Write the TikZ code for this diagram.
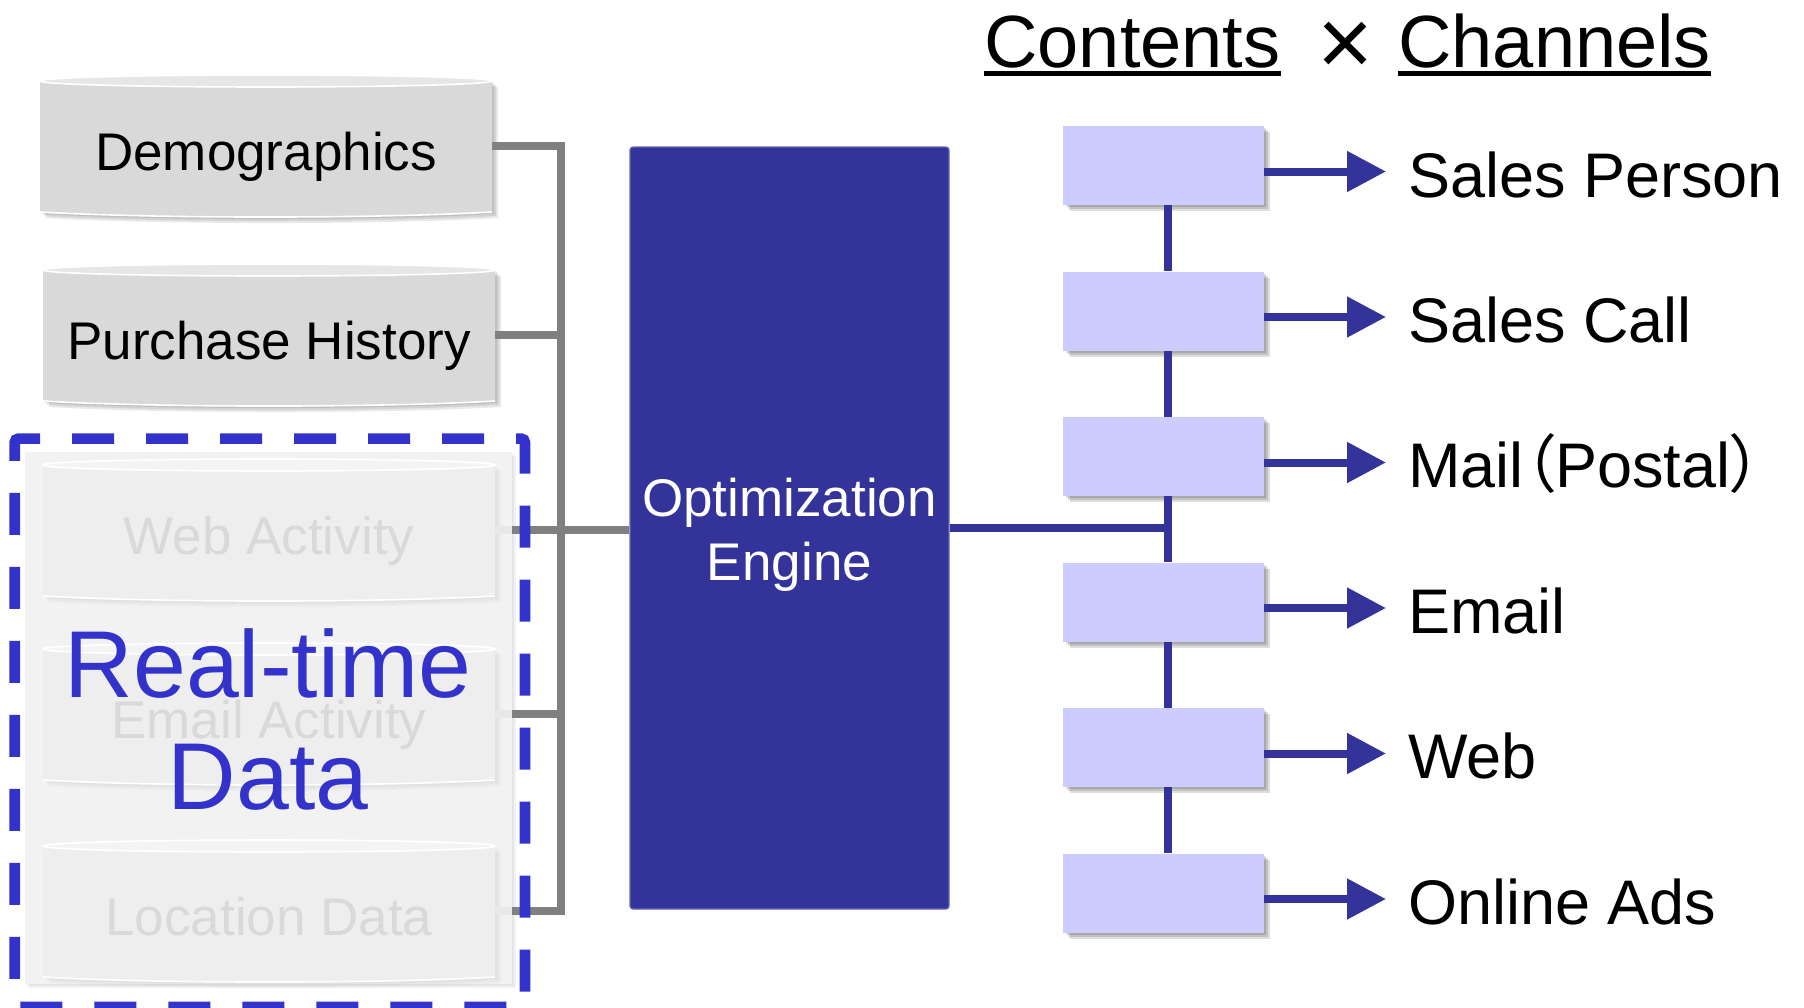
\documentclass[tikz,border=0pt]{standalone}
\usepackage{fontspec}
\setmainfont{Liberation Sans}
\newfontfamily\cjkfont{Noto Sans CJK JP}[RawFeature=+palt]
\usetikzlibrary{arrows.meta,calc}

\definecolor{navy}{HTML}{333399}
\definecolor{rtblue}{HTML}{3333CC}
\definecolor{boxfill}{HTML}{CCCCFF}
\definecolor{linegray}{HTML}{808080}
\definecolor{cylbody}{HTML}{D9D9D9}
\definecolor{cyllip}{HTML}{E6E6E6}
\definecolor{fadebody}{HTML}{EEEEEE}
\definecolor{fadelip}{HTML}{F4F4F4}
\definecolor{fadetext}{HTML}{D9D9D9}
\definecolor{panelfill}{HTML}{F2F2F2}
\definecolor{stubgray}{HTML}{E8E8E8}

% outline of a database cylinder, centred on the origin
\def\cylpath{(-226,-65) -- (226,-65) -- (226,66) .. controls (113,72.7) and (-113,72.7) .. (-226,66) -- cycle}

% #1 name, #2/#3 centre, #4 text, #5 font size (pt), #6 body, #7 lid, #8 text colour, #9 shadow opacity
\newcommand{\dbcyl}[9]{%
  \begin{scope}[shift={(#2,#3)}]
    \foreach \d in {2,4,6}{%
      \begin{scope}[shift={(\d,\d)}]
        \fill[black,opacity=#9] \cylpath;
      \end{scope}}
    \fill[#6] \cylpath;
    \draw[white,line width=0.8pt] (226,66) .. controls (113,72.7) and (-113,72.7) .. (-226,66);
    \filldraw[fill=#7,draw=white,line width=0.8pt] (0,-65) ellipse [x radius=113pt,y radius=3pt];
  \end{scope}
  \node[minimum width=226pt,minimum height=71pt,inner sep=0pt] (#1) at (#2,#3) {};
  \node[font=\fontsize{#5pt}{#5pt}\selectfont,text=#8,anchor=base,inner sep=0pt] (#1txt) at (#2,#3+24) {#4};
}

% soft drop shadow under a channel box centred at (#1,#2)
\newcommand{\boxshadow}[2]{%
  \foreach \d in {2,4,6}
    \fill[black,opacity=0.13] (#1-100+\d,#2-39.5+\d) rectangle (#1+100.5+\d,#2+39.5+\d);
}

\begin{document}
\begin{tikzpicture}[x=0.5pt,y=-0.5pt,
  gline/.style={draw=linegray,line width=4pt},
  stub/.style={draw=stubgray,line width=4pt},
  bline/.style={draw=navy,line width=4pt},
  arr/.style={bline,-{Triangle[length=19.5pt,width=19.5pt]}},
  chbox/.style={fill=boxfill,minimum width=100.5pt,minimum height=39.5pt,inner sep=0pt},
  lbl/.style={font=\fontsize{31.5pt}{36pt}\selectfont,anchor=base west,inner sep=0pt},
  ttl/.style={font=\fontsize{37pt}{42pt}\selectfont,anchor=base west,inner sep=0pt},
  rtxt/.style={font=\fontsize{47.5pt}{52pt}\selectfont,text=rtblue,anchor=base,inner sep=0pt},
  engtxt/.style={font=\fontsize{26.5pt}{30pt}\selectfont,text=white,anchor=base,inner sep=0pt},
  frame/.style={draw=rtblue,line width=5.35pt,dash pattern=on 21pt off 16pt,rounded corners=2pt}]

\fill[white] (0,0) rectangle (1804,1007);
\useasboundingbox (0,0) rectangle (1804,1007);

% light panel behind the real-time sources
\foreach \d in {2,4}
  \fill[black,opacity=0.05] (25+\d,452+\d) rectangle (512+\d,984+\d);
\node[fill=panelfill,minimum width=243.5pt,minimum height=266pt,inner sep=0pt] (panel) at (268.5,718) {};

% data sources
\dbcyl{web}{269}{530}{Web Activity}{26.5}{fadebody}{fadelip}{fadetext}{0.025}
\dbcyl{email}{269}{714}{Email Activity}{26.5}{fadebody}{fadelip}{fadetext}{0.025}
\dbcyl{loc}{269}{911}{Location Data}{26.5}{fadebody}{fadelip}{fadetext}{0.025}
\dbcyl{demo}{266}{146}{Demographics}{26.5}{cylbody}{cyllip}{black}{0.09}
\dbcyl{purch}{269}{335}{Purchase History}{26.5}{cylbody}{cyllip}{black}{0.09}

% optimization engine
\node[fill=navy,draw=navy!75!white,line width=0.6pt,rounded corners=1.5pt,
      minimum width=159.5pt,minimum height=381pt,inner sep=0pt] (engine) at (789.5,528) {};
\node[engtxt] (engt1) at (789.5,516) {Optimization};
\node[engtxt] (engt2) at (789.5,580) {Engine};

% grey collector lines
\coordinate (tk) at (561,0);
\draw[stub] (web.east) -- (web.east -| panel.east);
\draw[stub] (email.east) -- (email.east -| panel.east);
\draw[stub] (loc.east) -- (loc.east -| panel.east);
\draw[gline] (demo.east) -- (demo.east -| tk) -- (loc.east -| tk) -- (loc.east -| panel.east);
\draw[gline] (purch.east) -- (purch.east -| tk);
\draw[gline] (email.east -| panel.east) -- (email.east -| tk);
\draw[gline] (web.east -| panel.east) -- (web.east -| engine.west);

% content boxes
\boxshadow{1163.5}{165.5}
\boxshadow{1163.5}{311}
\boxshadow{1163.5}{456.5}
\boxshadow{1163.5}{602}
\boxshadow{1163.5}{747.5}
\boxshadow{1163.5}{893}
\node[chbox] (b1) at (1163.5,165.5) {};
\node[chbox] (b2) at (1163.5,311) {};
\node[chbox] (b3) at (1163.5,456.5) {};
\node[chbox] (b4) at (1163.5,602) {};
\node[chbox] (b5) at (1163.5,747.5) {};
\node[chbox] (b6) at (1163.5,893) {};

\foreach \a/\b in {b1/b2,b2/b3,b3/b4,b4/b5,b5/b6}
  \draw[bline] ([xshift=2pt]\a.south) -- ([xshift=2pt]\b.north);
\coordinate (tr3) at ([xshift=2pt]b3.south);
\draw[bline] (engine.east) -- (engine.east -| tr3);

% channels
\coordinate (tip1) at (1386,171.5);
\coordinate (tip2) at (1386,317);
\coordinate (tip3) at (1386,462.5);
\coordinate (tip4) at (1386,608);
\coordinate (tip5) at (1386,753.5);
\coordinate (tip6) at (1386,899);
\foreach \i in {1,...,6}
  \draw[arr] (b\i.east |- tip\i) -- (tip\i);
\node[lbl] (ch1) at (1408,197) {Sales Person};
\node[lbl] (ch2) at (1408,342) {Sales Call};
\node[lbl] (ch3) at (1408,487.5) {Mail{\cjkfont （}Postal{\cjkfont ）}};
\node[lbl] (ch4) at (1408,633) {Email};
\node[lbl] (ch5) at (1408,778.5) {Web};
\node[lbl] (ch6) at (1408,924) {Online Ads};

% real-time group
\draw[frame] (14.7,461) -- (14.7,438.6) -- (525,438.6) -- (525,1007) -- (14.7,1007) -- cycle;
\node[rtxt] (rt1) at (268,697) {Real-time};
\node[rtxt] (rt2) at (268,809) {Data};

% heading
\node[ttl] (cont) at (984,67) {Contents};
\node[ttl] (chan) at (1398,67) {Channels};
\node[font=\fontsize{48pt}{48pt}\selectfont,inner sep=0pt] (times) at (1345.5,48.5) {×};
\draw[line width=2.35pt] ($(cont.base west)+(0,6.3)$) -- ($(cont.base east)+(0,6.3)$);
\draw[line width=2.35pt] ($(chan.base west)+(0,6.3)$) -- ($(chan.base east)+(0,6.3)$);
\end{tikzpicture}
\end{document}
